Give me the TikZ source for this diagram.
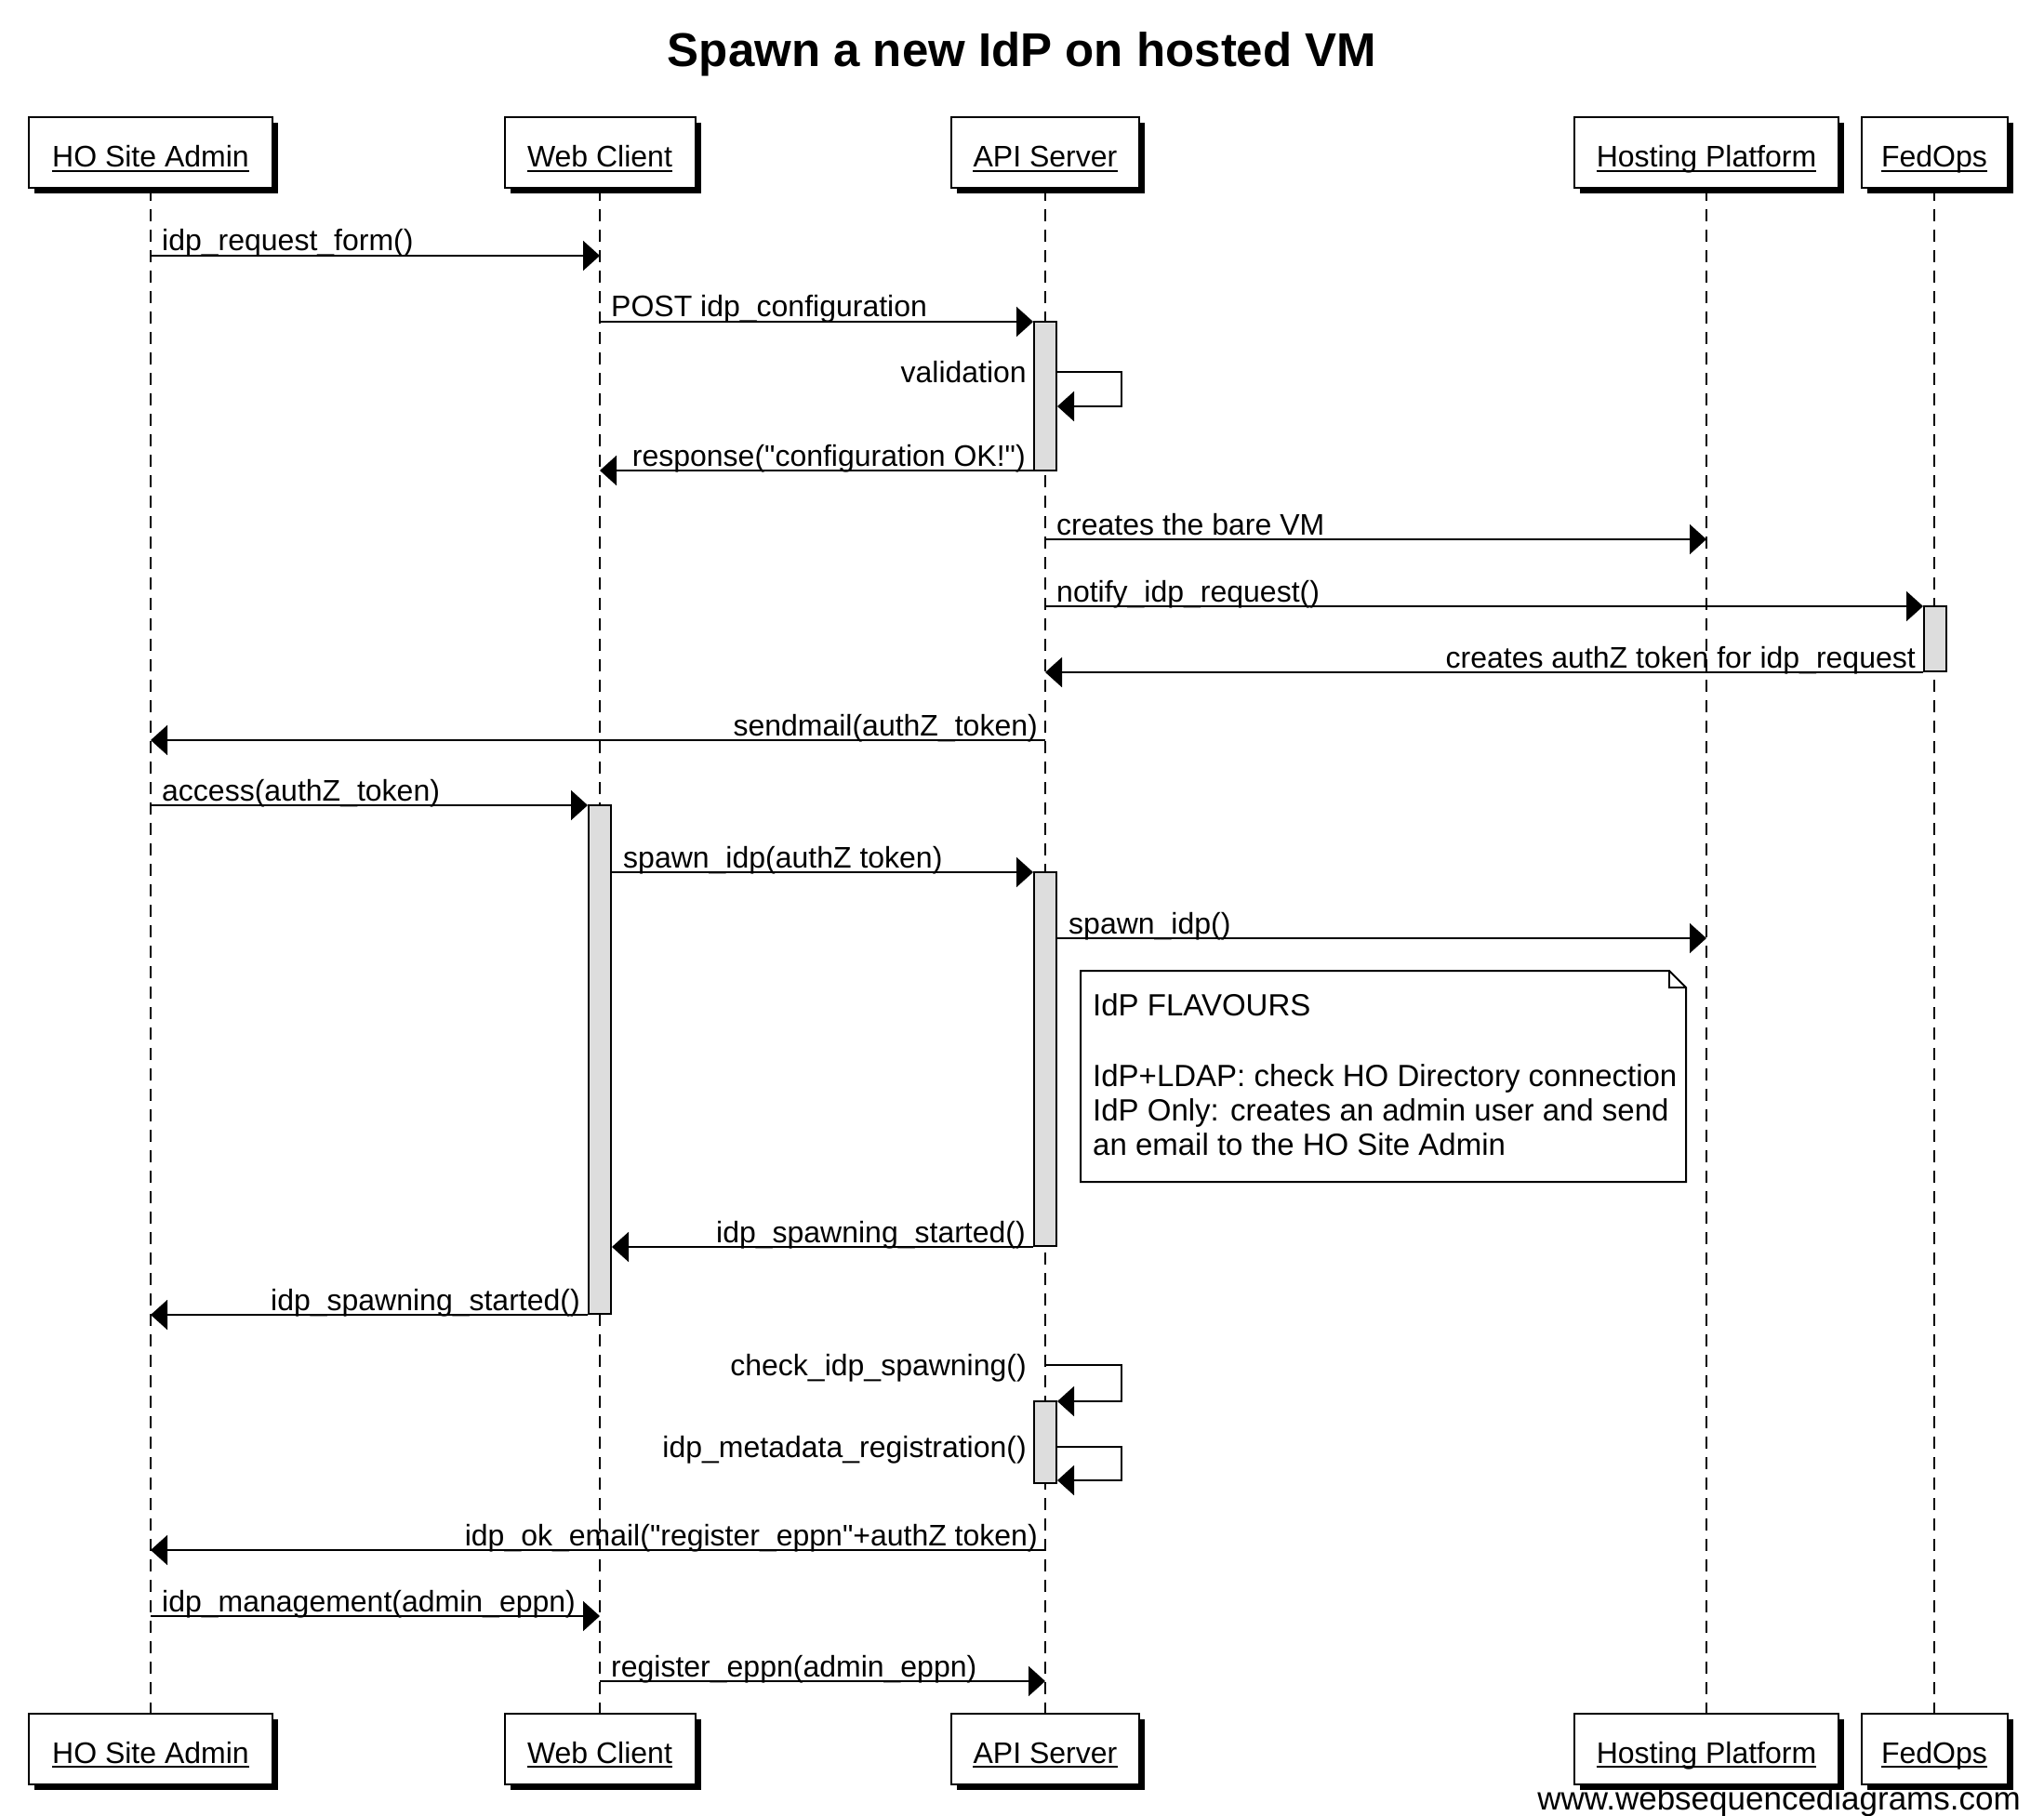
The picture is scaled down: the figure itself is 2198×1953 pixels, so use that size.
\documentclass[tikz,border=0pt]{standalone}
\usepackage{fontspec}
\setmainfont{Liberation Sans}[Ligatures=TeXOff]
\usetikzlibrary{arrows.meta,calc}
\definecolor{actgray}{HTML}{DDDDDD}
\newcommand\msgf{\fontsize{32}{38}\selectfont}
\newcommand\notef{\fontsize{33}{37}\selectfont}

% participant: name, center x, width, label
\newcommand\participant[4]{%
  \node[shadowbox, minimum width=#3pt] (#1Ts) at (#2+6,170) {};
  \node[pbox, minimum width=#3pt] (#1T) at (#2,164) {};
  \node[lbl, anchor=base] (#1Tl) at (#2,180) {#4};
  \draw[uline] ($(#1Tl.base west)+(0,4)$) -- ($(#1Tl.base east)+(0,4)$);
  \node[shadowbox, minimum width=#3pt] (#1Bs) at (#2+6,1887) {};
  \node[pbox, minimum width=#3pt] (#1B) at (#2,1881) {};
  \node[lbl, anchor=base] (#1Bl) at (#2,1896) {#4};
  \draw[uline] ($(#1Bl.base west)+(0,4)$) -- ($(#1Bl.base east)+(0,4)$);
}
% left-to-right message: name, from, to, y, label
\newcommand\msgR[5]{%
  \draw[msg] (#2 |- 0,#4) -- (#3 |- 0,#4);
  \node[lbl, anchor=base west] (#1) at ($(#2 |- 0,#4)+(12,-5)$) {#5};
}
% right-to-left message
\newcommand\msgL[5]{%
  \draw[msg] (#2 |- 0,#4) -- (#3 |- 0,#4);
  \node[lbl, anchor=base east] (#1) at ($(#2 |- 0,#4)+(-8,-5)$) {#5};
}
% self message: name, from, back-to, y1, y2, label
\newcommand\msgS[6]{%
  \draw[msg] (#2 |- 0,#4) -- (1206,#4) |- (#3 |- 0,#5);
  \node[lbl, anchor=base east] (#1) at (1104,#4+11) {#6};
}

\begin{document}
\begin{tikzpicture}[x=1pt,y=-1pt,
  pbox/.style={draw, line width=2pt, fill=white, inner sep=0pt, minimum height=76pt},
  shadowbox/.style={fill=black, inner sep=0pt, minimum height=76pt},
  life/.style={line width=1.8pt, dash pattern=on 13pt off 9pt},
  msg/.style={line width=2pt, -{Triangle[length=18pt,width=32pt]}},
  uline/.style={line width=2pt},
  act/.style={draw, line width=2pt, fill=actgray, inner sep=0pt, minimum width=24pt},
  lbl/.style={inner sep=0pt, font=\msgf},
  notebox/.style={draw, line width=2pt, fill=white},
]
\useasboundingbox (0,0) rectangle (2198,1953);

\node[font=\bfseries\fontsize{51}{60}\selectfont, anchor=base, inner sep=0pt] (title) at (1099,72) {Spawn a new IdP on hosted VM};

\participant{ha}{162}{262}{HO Site Admin}
\participant{wc}{645}{205}{Web Client}
\participant{api}{1124}{202}{API Server}
\participant{hp}{1835}{284}{Hosting Platform}
\participant{fo}{2080}{157}{FedOps}

\foreach \p in {ha,wc,api,hp,fo} {
  \draw[life] (\p T.south) -- (\p B.north);
}

% activations
\node[act, minimum height=160pt] (a1) at (1124,426) {};
\node[act, minimum height=70pt] (a2) at (2081,687) {};
\node[act, minimum height=547pt] (a3) at (645,1139.5) {};
\node[act, minimum height=402pt] (a4) at (1124,1139) {};
\node[act, minimum height=88pt] (a5) at (1124,1551) {};

% messages
\msgR{m1}{haT}{wcT}{275}{idp\_request\_form()}
\msgR{m2}{wcT}{a1.west}{346}{POST idp\_configuration}
\msgS{m3}{a1.east}{a1.east}{400}{437}{validation}
\msgL{m4}{a1.west}{wcT}{506}{response("configuration OK!")}
\msgR{m5}{apiT}{hpT}{580}{creates the bare VM}
\msgR{m6}{apiT}{a2.west}{652}{notify\_idp\_request()}
\msgL{m7}{a2.west}{apiT}{723}{creates authZ token for idp\_request}
\msgL{m8}{apiT}{haT}{796}{sendmail(authZ\_token)}
\msgR{m9}{haT}{a3.west}{866}{access(authZ\_token)}
\msgR{m10}{a3.east}{a4.west}{938}{spawn\_idp(authZ token)}
\msgR{m11}{a4.east}{hpT}{1009}{spawn\_idp()}

% note
\coordinate (nTL) at (1162,1044);
\coordinate (nBR) at (1813,1271);
\draw[notebox] (nTL) -- (1795,1044) -- (1813,1062) -- (nBR) -- (1162,1271) -- cycle;
\draw[line width=2pt] (1795,1044) -- (1795,1062) -- (1813,1062);
\node[inner sep=0pt, anchor=base west, font=\notef] (n1) at (1175,1092) {IdP FLAVOURS};
\node[inner sep=0pt, anchor=base west, font=\notef] (n2) at (1175,1168) {IdP+LDAP: check HO Directory connection};
\node[inner sep=0pt, anchor=base west, font=\notef] (n3) at (1175,1205) {IdP Only: creates an admin user and send};
\node[inner sep=0pt, anchor=base west, font=\notef] (n4) at (1175,1242) {an email to the HO Site Admin};

\msgL{m12}{a4.west}{a3.east}{1341}{idp\_spawning\_started()}
\msgL{m13}{a3.west}{haT}{1414}{idp\_spawning\_started()}
\msgS{m14}{apiT}{a5.east}{1468}{1507}{check\_idp\_spawning()}
\msgS{m15}{a5.east}{a5.east}{1556}{1592}{idp\_metadata\_registration()}
\msgL{m16}{apiT}{haT}{1667}{idp\_ok\_email("register\_eppn"+authZ token)}
\msgR{m17}{haT}{wcT}{1738}{idp\_management(admin\_eppn)}
\msgR{m18}{wcT}{apiT}{1808}{register\_eppn(admin\_eppn)}

\node[inner sep=0pt, anchor=base east, font=\fontsize{35}{40}\selectfont] (footer) at (2173,1946) {www.websequencediagrams.com};
\end{tikzpicture}
\end{document}
